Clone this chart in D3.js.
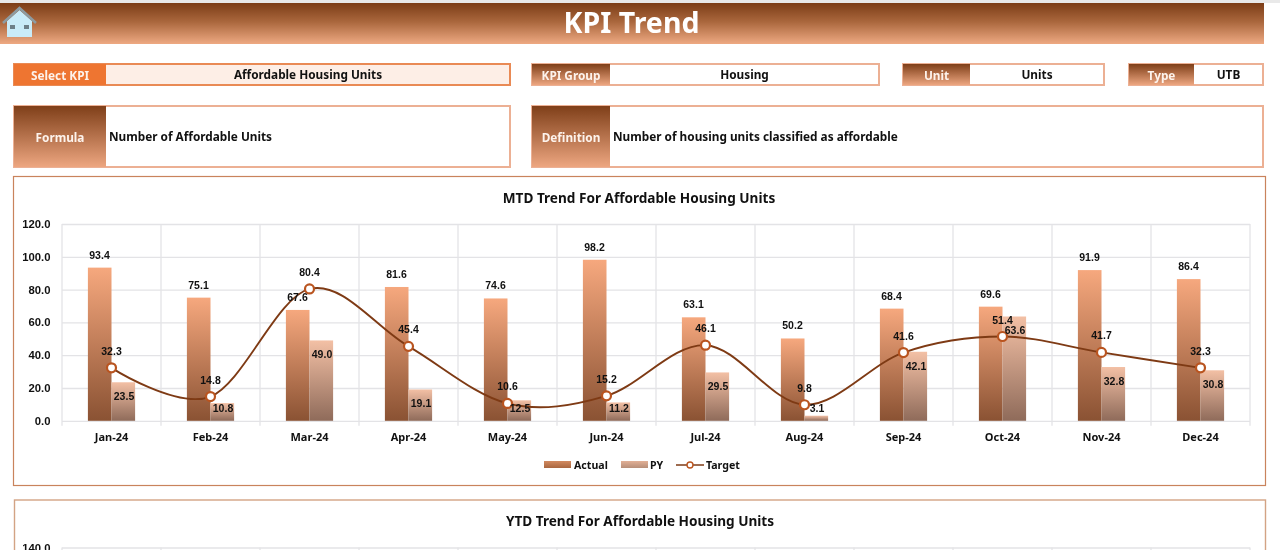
<!DOCTYPE html>
<html><head><meta charset="utf-8">
<style>
html,body{margin:0;padding:0;background:#fff;overflow:hidden;width:1280px;height:550px}
svg{display:block;filter:blur(0.3px)}
text{font-family:"Noto Sans",sans-serif;font-weight:700;fill:#111}
.num{font-family:"Liberation Sans",sans-serif;font-size:10.5px}
.axis path{display:none}
.axis line{stroke:#e3e3e6;stroke-width:1.3}
.grid text{display:none}
</style>
<script src="https://cdn.jsdelivr.net/npm/d3@7/dist/d3.min.js"></script>
</head><body><svg id="c" width="1280" height="550"></svg>
<script>
const months=["Jan-24","Feb-24","Mar-24","Apr-24","May-24","Jun-24","Jul-24","Aug-24","Sep-24","Oct-24","Nov-24","Dec-24"];
const actual=[93.4,75.1,67.6,81.6,74.6,98.2,63.1,50.2,68.4,69.6,91.9,86.4];
const py=[23.5,10.8,49.0,19.1,12.5,11.2,29.5,3.1,42.1,63.6,32.8,30.8];
const target=[32.3,14.8,80.4,45.4,10.6,15.2,46.1,9.8,41.6,51.4,41.7,32.3];
const yTicksMtd=[0,20,40,60,80,100,120];
const kpiName="Affordable Housing Units";
const fmt=d3.format(".1f");

const svg=d3.select("#c");
const defs=svg.append("defs");
function grad(id,stops){
  const g=defs.append("linearGradient").attr("id",id).attr("x1",0).attr("x2",0).attr("y1",0).attr("y2",1);
  stops.forEach(s=>g.append("stop").attr("offset",s[0]).attr("stop-color",s[1]));
}
grad("hdr",[[0,"#7c3d17"],[0.45,"#a9663c"],[1,"#eea982"]]);
grad("lab",[[0,"#7f3f19"],[1,"#eda680"]]);
grad("act",[[0,"#f6a87e"],[1,"#8a5233"]]);
grad("pyg",[[0,"#f3c0a5"],[1,"#8f6b5a"]]);

// frame
svg.append("rect").attr("x",0).attr("y",0).attr("width",1280).attr("height",3).attr("fill","#e9e9e9");
svg.append("rect").attr("x",0).attr("y",3).attr("width",1264).attr("height",41).attr("fill","url(#hdr)");
svg.append("text").attr("x",631.5).attr("y",32.5).attr("text-anchor","middle").attr("font-size",28.5).style("fill","#fff").text("KPI Trend");

// home icon
const home=svg.append("g");
home.append("path").attr("d","M7 21 L7 37 L32 37 L32 21 L19.5 10 Z").attr("fill","#c9ebf8");
home.append("path").attr("d","M3 23 L19.5 8 L36 23").attr("fill","none").attr("stroke","#8d9ba1").attr("stroke-width",2.6);
home.append("rect").attr("x",10).attr("y",25).attr("width",5).attr("height",4).attr("fill","#6d7f88");
home.append("rect").attr("x",24).attr("y",25).attr("width",5).attr("height",4).attr("fill","#6d7f88");

function tile(x,y,w,h,lw,label,value,opt){
  opt=opt||{};
  svg.append("rect").attr("x",x+1).attr("y",y+1).attr("width",w-2).attr("height",h-2)
    .attr("fill",opt.valueFill||"#fff").attr("stroke",opt.border||"#ecb094").attr("stroke-width",2);
  svg.append("rect").attr("x",x+1).attr("y",y+1).attr("width",lw).attr("height",h-2).attr("fill",opt.labelFill||"url(#lab)");
  svg.append("text").attr("x",x+1+lw/2).attr("y",y+h/2+5).attr("text-anchor","middle").attr("font-size",11.8).style("fill","#fdf3ec").text(label);
  const t=svg.append("text").attr("y",y+h/2+4.3).attr("font-size",11.8);
  if(opt.left) t.attr("x",x+lw+4).text(value);
  else t.attr("x",x+lw+(w-lw)/2).attr("text-anchor","middle").text(value);
}
tile(13,63,498,23,92,"Select KPI",kpiName,{valueFill:"#fdeee6",border:"#e98a55",labelFill:"#ee7531"});
tile(531,63,349,23,78,"KPI Group","Housing");
tile(902,63,203,23,67,"Unit","Units");
tile(1128,63,136,23,65,"Type","UTB");
tile(13,105,498,63,92,"Formula","Number of Affordable Units",{left:true});
tile(531,105,733,63,78,"Definition","Number of housing units classified as affordable",{left:true});

// chart boxes
svg.append("rect").attr("x",13.5).attr("y",176.5).attr("width",1252).attr("height",309).attr("fill","#fff").attr("stroke","#c9835c").attr("stroke-width",1.2);
svg.append("rect").attr("x",14.5).attr("y",500).attr("width",1251).attr("height",80).attr("fill","#fff").attr("stroke","#d3a384").attr("stroke-width",1.4);
svg.append("text").attr("x",639).attr("y",202.5).attr("text-anchor","middle").attr("font-size",13.6).text("MTD Trend For "+kpiName);
svg.append("text").attr("x",640).attr("y",525.5).attr("text-anchor","middle").attr("font-size",13.6).text("YTD Trend For "+kpiName);

// scales
const x=d3.scaleBand().domain(months).range([62,1250]);
const y=d3.scaleLinear().domain([0,120]).range([420.8,224]);
const inner=d3.scaleBand().domain(["Actual","PY"]).range([-23.6,23.6]);
const edge=i=>i<12?x(months[i]):x.range()[1];

// gridlines
svg.append("g").attr("class","axis grid").attr("transform","translate(62,0)")
  .call(d3.axisLeft(y).tickValues(yTicksMtd).tickSize(-1188));
svg.append("g").attr("class","axis").selectAll("line").data(d3.range(13)).join("line")
  .attr("x1",edge).attr("x2",edge).attr("y1",y(120)).attr("y2",y(0)+5);

// y labels
svg.append("g").selectAll("text").data(yTicksMtd).join("text").attr("class","num")
  .attr("x",50.5).attr("y",d=>y(d)+4).attr("text-anchor","end").style("font-size","11.3px").text(fmt);

// x labels
svg.append("g").selectAll("text").data(months).join("text")
  .attr("x",d=>x(d)+x.bandwidth()/2).attr("y",y(0)+20).attr("text-anchor","middle").attr("font-size",11).text(d=>d);

// bars
const cx=i=>x(months[i])+x.bandwidth()/2;
svg.append("g").selectAll("rect").data(actual).join("rect")
  .attr("x",(d,i)=>cx(i)+inner("Actual")).attr("width",inner.bandwidth())
  .attr("y",d=>y(d)).attr("height",d=>y(0)-y(d)).attr("fill","url(#act)");
svg.append("g").selectAll("rect").data(py).join("rect")
  .attr("x",(d,i)=>cx(i)+inner("PY")).attr("width",inner.bandwidth())
  .attr("y",d=>y(d)).attr("height",d=>y(0)-y(d)).attr("fill","url(#pyg)");

// line
const pts=target.map((d,i)=>[cx(i),y(d)]);
svg.append("path").attr("d",d3.line().curve(d3.curveCatmullRom.alpha(0))(pts))
  .attr("fill","none").attr("stroke","#7e3a14").attr("stroke-width",1.9);
svg.append("g").selectAll("circle").data(pts).join("circle")
  .attr("cx",d=>d[0]).attr("cy",d=>d[1]).attr("r",4.5)
  .attr("fill","#fff").attr("stroke","#b9541f").attr("stroke-width",2.2);

// data labels
const lab=svg.append("g");
lab.selectAll(".a").data(actual).join("text").attr("class","num a")
  .attr("x",(d,i)=>cx(i)-12).attr("y",d=>y(d)-9).attr("text-anchor","middle").text(fmt);
lab.selectAll(".p").data(py).join("text").attr("class","num p")
  .attr("x",(d,i)=>cx(i)+12.5).attr("y",d=>Math.min(y(d)+14,408)+3.8).attr("text-anchor","middle").text(fmt);
lab.selectAll(".t").data(target).join("text").attr("class","num t")
  .attr("x",(d,i)=>cx(i)).attr("y",d=>y(d)-13).attr("text-anchor","middle").text(fmt);

// legend
const lg=svg.append("g");
[["Actual",544,"#d28a60","#a9663f",574],["PY",621,"#e2b096","#b78e78",650]].forEach(l=>{
  const id="lg"+l[0];
  grad(id,[[0,l[2]],[1,l[3]]]);
  lg.append("rect").attr("x",l[1]).attr("y",461).attr("width",27).attr("height",7).attr("fill",`url(#${id})`);
  lg.append("text").attr("x",l[4]).attr("y",468.5).attr("font-size",10.6).text(l[0]);
});
lg.append("line").attr("x1",676).attr("x2",704).attr("y1",465).attr("y2",465).attr("stroke","#7e3a14").attr("stroke-width",1.5);
lg.append("circle").attr("cx",690).attr("cy",465).attr("r",3).attr("fill","#fff").attr("stroke","#b9541f").attr("stroke-width",1.4);
lg.append("text").attr("x",706).attr("y",468.5).attr("font-size",10.6).text("Target");

// YTD chart top, cut off by the window
const yYtd=d3.scaleLinear().domain([0,140]).range([744,547.5]);
svg.append("g").attr("class","axis grid").attr("transform","translate(62,0)")
  .call(d3.axisLeft(yYtd).tickValues([140]).tickSize(-1188));
svg.append("g").attr("class","axis").selectAll("line").data(d3.range(13)).join("line")
  .attr("x1",edge).attr("x2",edge).attr("y1",547.5).attr("y2",560);
svg.append("text").attr("class","num").attr("x",50.5).attr("y",yYtd(140)+4).attr("text-anchor","end").style("font-size","11.3px").text(fmt(140));
</script></body></html>
